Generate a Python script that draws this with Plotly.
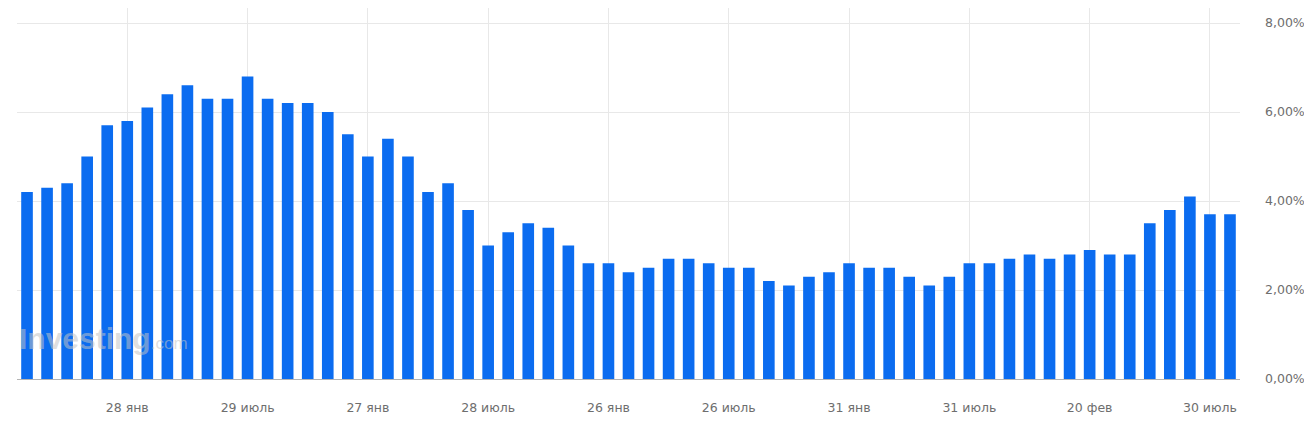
import plotly.graph_objects as go

# Monthly values (%), 61 bars
values = [4.2, 4.3, 4.4, 5.0, 5.7, 5.8, 6.1, 6.4, 6.6, 6.3,
          6.3, 6.8, 6.3, 6.2, 6.2, 6.0, 5.5, 5.0, 5.4, 5.0,
          4.2, 4.4, 3.8, 3.0, 3.3, 3.5, 3.4, 3.0, 2.6, 2.6,
          2.4, 2.5, 2.7, 2.7, 2.6, 2.5, 2.5, 2.2, 2.1, 2.3,
          2.4, 2.6, 2.5, 2.5, 2.3, 2.1, 2.3, 2.6, 2.6, 2.7,
          2.8, 2.7, 2.8, 2.9, 2.8, 2.8, 3.5, 3.8, 4.1, 3.7, 3.7]
months = list(range(len(values)))

x_tick_months = [5, 11, 17, 23, 29, 35, 41, 47, 53, 59]
x_tick_labels = ["28 янв", "29 июль", "27 янв", "28 июль", "26 янв",
                 "26 июль", "31 янв", "31 июль", "20 фев", "30 июль"]
y_tick_vals = [0, 2, 4, 6, 8]
y_tick_labels = ["0,00%", "2,00%", "4,00%", "6,00%", "8,00%"]

tick_font = dict(family="DejaVu Sans, Liberation Sans, Arial", size=12.5, color="#6e6e6e")

fig = go.Figure()
fig.add_trace(go.Bar(x=months, y=values, marker=dict(color="#0b6cf0", line=dict(width=0)),
                     hoverinfo="skip"))

fig.add_annotation(xref="paper", yref="paper", x=0.0, y=0.058, xanchor="left", yanchor="bottom",
                   text="<b>Investing</b><span style='font-size:17px'>.com</span>",
                   showarrow=False,
                   font=dict(family="Liberation Sans, Arial", size=30, color="rgba(195,195,195,0.55)"))

fig.update_layout(
    width=1304, height=418,
    margin=dict(l=9, r=72, t=0, b=47),
    paper_bgcolor="white", plot_bgcolor="white",
    showlegend=False,
    bargap=0.42,
    font=dict(family="DejaVu Sans, Liberation Sans, Arial, sans-serif", size=12, color="#6e6e6e"),
    xaxis=dict(range=[-0.5, len(values) - 0.5], tickmode="array",
               tickvals=x_tick_months, ticktext=x_tick_labels,
               showgrid=True, gridcolor="#e8e8e8", gridwidth=1,
               zeroline=False, showline=True, linecolor="#b5b5b5", linewidth=1,
               ticks="", ticklabelstandoff=17, tickfont=tick_font),
    yaxis=dict(range=[0, 8.337], side="right", tickmode="array",
               tickvals=y_tick_vals, ticktext=y_tick_labels,
               showgrid=True, gridcolor="#e8e8e8", gridwidth=1,
               zeroline=False, ticks="", ticklabelstandoff=24,
               tickfont=tick_font),
)

fig.write_html("out.html")
